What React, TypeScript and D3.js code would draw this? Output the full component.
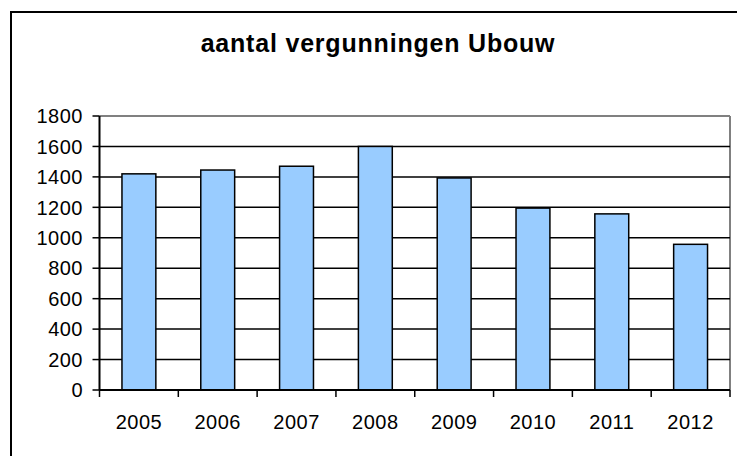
import React from "react";
import * as d3 from "d3";

const years = ["2005", "2006", "2007", "2008", "2009", "2010", "2011", "2012"];
const permits = [1420, 1445, 1470, 1600, 1393, 1195, 1157, 957];
const yTicks = [0, 200, 400, 600, 800, 1000, 1200, 1400, 1600, 1800];
const title = "aantal vergunningen Ubouw";

export default function App() {
  const W = 737, H = 456;
  const left = 99.5, right = 730, top = 116, bottom = 390;
  const x = d3.scaleBand<string>().domain(years).range([left, right]).paddingInner(0.57).paddingOuter(0.285);
  const step = (right - left) / years.length;
  const y = d3.scaleLinear().domain([0, 1800]).range([bottom, top]);
  const font = "'Liberation Sans', Arial, sans-serif";
  return (
    <svg width={W} height={H} style={{ position: "absolute", left: 0, top: 0, background: "#fff" }}>
      <rect x={0} y={0} width={W} height={H} fill="#fff" />
      <rect x={11} y={12} width={760} height={480} fill="#fff" stroke="#000" strokeWidth={2} />
      <text x={378} y={52} textAnchor="middle" fontFamily={font} fontWeight="bold" fontSize={25} letterSpacing={0.8}>
        {title}
      </text>
      {/* plot border */}
      <line x1={left} x2={right} y1={top} y2={top} stroke="#808080" strokeWidth={2} />
      <line x1={right} x2={right} y1={top} y2={bottom} stroke="#808080" strokeWidth={2} />
      {yTicks.filter(t => t !== 0 && t !== 1800).map(t => (
        <line key={t} x1={left} x2={right} y1={y(t)} y2={y(t)} stroke="#000" strokeWidth={1.5} />
      ))}
      {years.map((yr, i) => (
        <rect key={yr} x={x(yr)!} y={y(permits[i])} width={x.bandwidth()} height={bottom - y(permits[i])}
          fill="#99CCFF" stroke="#000" strokeWidth={1.5} />
      ))}
      {/* axes */}
      <line x1={left} x2={left} y1={top} y2={bottom} stroke="#000" strokeWidth={2} />
      <line x1={left} x2={right} y1={bottom} y2={bottom} stroke="#000" strokeWidth={2} />
      {yTicks.map(t => (
        <g key={t}>
          <line x1={left - 7} x2={left} y1={y(t)} y2={y(t)} stroke="#000" strokeWidth={1.5} />
          <text x={83} y={y(t)} dy="0.36em" textAnchor="end" fontFamily={font} fontSize={20} letterSpacing={0.5}>{t}</text>
        </g>
      ))}
      {d3.range(years.length + 1).map(i => (
        <line key={i} x1={left + i * step} x2={left + i * step} y1={bottom} y2={bottom + 7} stroke="#000" strokeWidth={1.5} />
      ))}
      {years.map(yr => (
        <text key={yr} x={x(yr)! + x.bandwidth() / 2} y={429} textAnchor="middle" fontFamily={font} fontSize={20} letterSpacing={0.5}>{yr}</text>
      ))}
    </svg>
  );
}
